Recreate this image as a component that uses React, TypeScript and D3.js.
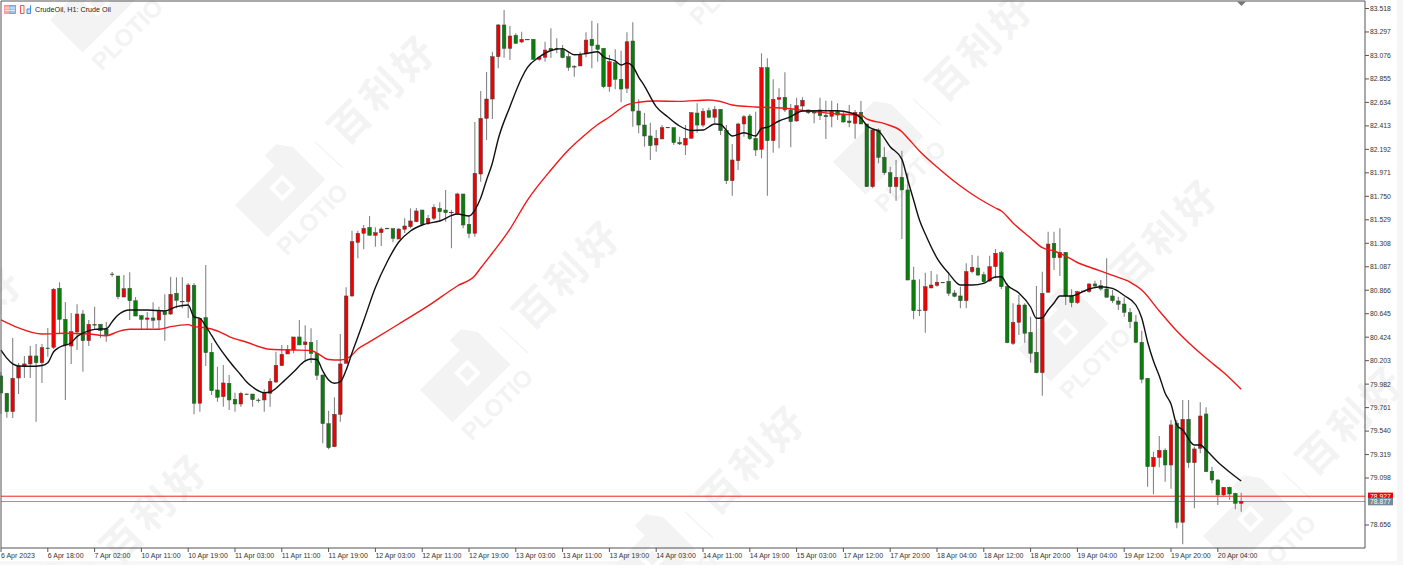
import React from 'react';
import * as d3 from 'd3';

const width = 1403;
const height = 565;

// price candles, one hour each
const opens = [
  80.059,79.896,79.723,80.040,80.153,80.172,80.247,80.184,80.322,80.329,
  80.884,80.592,80.341,80.473,80.642,80.391,80.543,80.545,80.498,81.018,
  81.000,80.802,80.884,80.767,80.626,80.592,80.605,80.586,80.664,80.642,
  80.837,80.762,80.758,80.912,79.802,80.608,80.282,79.927,79.864,79.990,
  79.839,79.795,79.889,79.889,79.832,79.833,79.896,80.002,80.156,80.266,
  80.303,80.426,80.353,80.376,80.272,80.068,79.610,79.393,79.698,80.178,
  80.812,81.317,81.402,81.458,81.383,81.408,81.449,81.445,81.348,81.440,
  81.464,81.511,81.621,81.496,81.543,81.637,81.621,81.600,81.590,81.772,
  81.487,81.402,81.960,82.484,82.666,83.064,83.363,83.143,83.266,83.203,
  83.228,83.228,83.040,83.059,83.143,83.143,83.134,83.064,82.972,82.977,
  83.096,83.228,83.174,83.143,82.782,83.008,82.852,82.767,83.212,82.553,
  82.421,82.318,82.233,82.290,82.400,82.396,82.258,82.233,82.296,82.534,
  82.421,82.556,82.494,82.569,82.368,81.897,82.085,82.431,82.506,82.296,
  82.193,82.961,82.274,82.663,82.682,82.563,82.459,82.600,82.563,82.541,
  82.563,82.513,82.503,82.550,82.522,82.459,82.437,82.541,82.431,81.841,
  82.374,82.117,81.972,81.841,81.929,81.810,80.962,80.679,80.673,80.887,
  80.912,80.941,80.950,80.840,80.812,80.767,81.041,81.075,81.012,80.953,
  81.088,81.219,80.899,80.366,80.564,80.727,80.470,80.282,80.090,80.847,
  81.308,81.172,81.223,80.812,80.749,80.859,80.852,80.925,80.909,80.878,
  80.812,80.765,80.736,80.655,80.567,80.376,80.037,79.205,79.293,79.359,
  79.221,79.614,78.682,79.651,79.243,79.378,79.701,79.162,79.080,78.939,
  79.011,78.954,78.860,
];
const highs = [
  80.096,79.899,80.416,80.181,80.247,80.341,80.360,80.360,80.510,80.887,
  80.941,80.755,80.652,80.734,80.680,80.586,80.711,80.548,80.567,81.038,
  81.000,81.009,81.035,80.802,80.633,80.661,80.752,80.711,80.828,80.993,
  80.988,80.988,80.934,80.934,80.605,81.104,80.369,80.146,80.162,80.068,
  79.902,79.911,79.892,79.889,79.849,79.933,80.037,80.287,80.351,80.351,
  80.426,80.586,80.536,80.508,80.398,80.068,79.732,79.858,80.454,80.894,
  81.426,81.426,81.480,81.565,81.458,81.458,81.453,81.449,81.449,81.543,
  81.637,81.640,81.621,81.574,81.675,81.694,81.810,81.621,81.784,81.772,
  81.574,82.450,82.741,82.920,83.111,83.372,83.504,83.353,83.285,83.300,
  83.231,83.231,83.071,83.205,83.332,83.237,83.174,83.096,82.986,83.111,
  83.294,83.403,83.379,83.146,83.080,83.134,83.121,83.294,83.388,82.663,
  82.534,82.443,82.374,82.421,82.403,82.400,82.311,82.421,82.544,82.626,
  82.579,82.584,82.600,82.572,82.421,82.243,82.443,82.515,82.525,82.547,
  83.096,83.049,82.852,82.767,82.917,82.619,82.678,82.682,82.565,82.563,
  82.678,82.650,82.650,82.626,82.547,82.610,82.563,82.647,82.431,82.390,
  82.390,82.211,82.029,82.092,82.179,81.967,81.088,80.969,81.031,81.047,
  81.016,80.944,81.038,80.868,80.899,81.120,81.198,81.191,81.041,81.191,
  81.254,81.235,80.931,80.743,80.821,80.743,80.617,80.906,81.041,81.417,
  81.417,81.449,81.226,80.875,80.862,80.862,80.931,80.956,80.962,81.167,
  80.868,80.805,80.800,80.699,80.633,80.485,80.040,79.346,79.494,79.378,
  79.645,79.645,79.833,79.833,79.393,79.811,79.764,79.205,79.086,79.014,
  79.017,78.960,78.960,
];
const lows = [
  79.701,79.666,79.663,79.889,80.040,80.040,79.629,79.993,80.240,80.313,
  80.454,79.833,80.172,80.303,80.099,80.341,80.492,80.416,80.382,80.993,
  80.781,80.802,80.586,80.623,80.498,80.501,80.508,80.492,80.391,80.633,
  80.696,80.696,80.605,79.698,79.723,80.153,79.880,79.817,79.770,79.739,
  79.723,79.770,79.884,79.770,79.807,79.723,79.770,79.993,80.153,80.266,
  80.272,80.351,80.193,80.181,80.021,79.425,79.369,79.388,79.629,80.178,
  80.805,81.167,81.251,81.383,81.276,81.282,81.443,81.317,81.348,81.405,
  81.449,81.505,81.480,81.480,81.527,81.518,81.511,81.261,81.574,81.449,
  81.355,81.370,81.888,82.280,82.478,82.955,83.055,83.033,83.184,83.190,
  83.222,83.033,83.027,83.017,83.052,83.096,83.049,82.933,82.876,82.977,
  83.059,82.955,83.017,82.767,82.735,82.757,82.635,82.723,82.405,82.343,
  82.217,82.092,82.170,82.290,82.396,82.233,82.233,82.139,82.296,82.349,
  82.400,82.484,82.437,82.327,81.866,81.756,81.998,82.311,82.280,82.130,
  82.108,81.756,82.161,82.202,82.544,82.211,82.452,82.547,82.525,82.437,
  82.468,82.290,82.400,82.468,82.443,82.400,82.292,82.431,81.838,81.825,
  82.061,81.951,81.778,81.709,81.348,80.962,80.592,80.623,80.466,80.887,
  80.899,80.936,80.812,80.800,80.696,80.696,81.025,81.000,80.937,80.946,
  80.978,80.878,80.366,80.351,80.445,80.372,80.184,80.084,79.873,80.847,
  81.056,81.000,80.727,80.705,80.736,80.854,80.843,80.884,80.862,80.800,
  80.746,80.680,80.617,80.508,80.366,79.990,79.017,78.945,79.199,79.064,
  78.998,78.625,78.475,79.196,78.813,79.331,79.158,79.049,78.844,78.929,
  78.892,78.804,78.781,
];
const closes = [
  79.899,79.723,80.037,80.153,80.172,80.247,80.184,80.325,80.319,80.875,
  80.592,80.351,80.476,80.642,80.391,80.545,80.540,80.485,80.447,81.016,
  80.805,80.880,80.767,80.623,80.592,80.605,80.583,80.664,80.636,80.828,
  80.771,80.760,80.915,79.802,80.602,80.278,79.920,79.858,79.993,79.833,
  79.795,79.896,79.887,79.836,79.830,79.902,80.009,80.159,80.263,80.310,
  80.426,80.351,80.379,80.272,80.065,79.610,79.384,79.698,80.172,80.812,
  81.323,81.402,81.449,81.383,81.408,81.442,81.447,81.355,81.442,81.471,
  81.518,81.612,81.487,81.543,81.647,81.605,81.596,81.598,81.772,81.480,
  81.402,81.967,82.484,82.666,83.064,83.363,83.143,83.259,83.190,83.228,
  83.226,83.040,83.059,83.127,83.127,83.141,83.055,82.965,82.970,83.080,
  83.221,83.168,83.134,82.782,83.017,82.852,82.760,83.205,82.553,82.421,
  82.318,82.227,82.296,82.396,82.398,82.255,82.243,82.296,82.537,82.421,
  82.550,82.494,82.569,82.368,81.897,82.092,82.431,82.499,82.292,82.186,
  82.961,82.274,82.663,82.678,82.563,82.452,82.603,82.654,82.537,82.534,
  82.509,82.499,82.547,82.515,82.450,82.443,82.541,82.431,81.841,82.374,
  82.117,81.972,81.841,81.929,81.810,80.962,80.673,80.677,80.899,80.915,
  80.941,80.939,80.837,80.809,80.767,81.041,81.082,81.009,80.946,81.088,
  81.214,80.899,80.372,80.564,80.727,80.461,80.272,80.090,80.837,81.301,
  81.172,81.223,80.812,80.749,80.852,80.857,80.925,80.906,80.878,80.800,
  80.767,80.734,80.658,80.570,80.376,80.028,79.205,79.293,79.359,79.221,
  79.598,78.682,79.651,79.243,79.372,79.682,79.158,79.080,78.939,79.011,
  78.948,78.860,78.877,
];

// fast moving average (black), candle index and value
const fastMaBars = [
  0,1,2,3,5,7,8,9,10,12,13,14,16,18,19,20,22,25,28,30,32,33,34,35,36,37,39,41,42,43,45,46,48,50,52,53,54,55,56,57,58,59,
  60,61,62,64,66,68,70,72,75,78,80,81,82,83,84,85,87,89,90,92,94,96,97,98,100,102,103,105,106,107,108,109,110,112,114,116,
  118,120,122,123,125,127,129,130,131,133,135,137,140,143,145,147,148,149,150,152,154,155,156,157,158,160,162,164,166,168,
  170,171,172,174,176,177,178,179,180,181,183,186,188,190,192,194,195,196,197,198,199,200,201,202,204,205,206,208,210,212,
];
const fastMaValues = [
  80.303,80.227,80.172,80.153,80.150,80.158,80.184,80.287,80.329,80.372,80.429,80.461,80.498,80.504,80.570,80.633,80.680,80.680,80.671,80.711,80.727,80.614,80.602,80.529,80.440,80.351,80.200,80.068,80.002,79.955,79.902,79.908,79.993,80.096,80.200,80.219,80.214,80.106,80.021,79.990,80.005,80.115,
  80.275,80.426,80.579,80.892,81.132,81.320,81.424,81.480,81.518,81.584,81.565,81.621,81.734,81.904,82.064,82.290,82.594,82.864,82.963,83.061,83.123,83.140,83.109,83.083,83.094,83.111,83.064,83.024,82.986,83.005,82.972,82.873,82.788,82.594,82.497,82.412,
  82.370,82.374,82.431,82.426,82.318,82.349,82.318,82.390,82.400,82.459,82.501,82.553,82.556,82.556,82.539,82.487,82.417,82.384,82.365,82.217,82.098,81.904,81.715,81.527,81.395,81.169,81.025,80.915,80.915,80.931,
  80.991,80.993,80.915,80.840,80.708,80.602,80.607,80.680,80.746,80.812,80.812,80.878,80.899,80.884,80.816,80.727,80.605,80.379,80.200,80.059,79.896,79.795,79.597,79.550,79.409,79.409,79.362,79.249,79.155,79.070,
];

// slow moving average (red)
const slowMaBars = [
  0,3,7,11,15,18,20,22,27,29,32,33,35,37,39,42,46,50,53,54,56,58,59,60,61,63,68,73,78,81,82,84,87,90,94,97,100,102,104,107,109,112,116,121,123,125,129,134,138,143,147,148,151,154,155,157,
  160,164,167,170,171,173,176,178,180,182,184,187,190,193,195,198,201,204,207,209,212,
];
const slowMaValues = [
  80.586,80.511,80.454,80.461,80.454,80.438,80.476,80.498,80.498,80.523,80.542,80.523,80.513,80.482,80.430,80.376,80.310,80.303,80.299,80.275,80.214,80.209,80.219,80.256,80.313,80.379,80.548,80.718,80.906,81.003,81.075,81.216,81.442,81.715,81.998,82.186,82.337,82.426,82.497,82.610,82.635,82.647,82.644,82.657,82.643,82.610,82.591,82.579,82.553,82.525,82.515,82.478,82.434,82.358,82.299,82.177,
  82.026,81.847,81.734,81.640,81.612,81.499,81.358,81.266,81.235,81.188,81.127,81.066,81.005,80.943,80.868,80.671,80.482,80.322,80.181,80.092,79.934,
];

const priceTicks = [
  '83.518','83.297','83.076','82.855','82.634','82.413','82.192','81.971','81.750','81.529','81.308',
  '81.087','80.866','80.645','80.424','80.203','79.982','79.761','79.540','79.319','79.098','78.656',
];
const timeTicks = [
  '6 Apr 2023','6 Apr 18:00','7 Apr 02:00','10 Apr 11:00','10 Apr 19:00','11 Apr 03:00','11 Apr 11:00',
  '11 Apr 19:00','12 Apr 03:00','12 Apr 11:00','12 Apr 19:00','13 Apr 03:00','13 Apr 11:00','13 Apr 19:00',
  '14 Apr 03:00','14 Apr 11:00','14 Apr 19:00','15 Apr 03:00','17 Apr 12:00','17 Apr 20:00','18 Apr 04:00',
  '18 Apr 12:00','18 Apr 20:00','19 Apr 04:00','19 Apr 12:00','19 Apr 20:00','20 Apr 04:00',
];
const barsPerTimeTick = 8;
const askPrice = 78.927;
const bidPrice = 78.877;

// watermark tiles: left corner of each logo
const logoAnchors = [
  [50, 20], [235, 205], [420, 390], [605, 575],
  [648, -25], [833, 162], [1018, 349], [1203, 536],
  [-178, 437], [7, 624],
];

const chartRight = 1365;
const chartBottom = 548;
const labelFont = '"Liberation Sans", Arial, sans-serif';
const upColor = '#f00000';
const downColor = '#0a7d0a';
const markColor = '#f3f3f3';

const x = d3.scaleLinear().domain([0, 212]).range([1, 1241.2]);
const y = d3.scaleLinear().domain([78.656, 83.518]).range([525, 8.5]);

const fastLine = d3.line<number>()
  .x((_, i) => x(fastMaBars[i]))
  .y(d => y(d))
  .curve(d3.curveMonotoneX);
const slowLine = d3.line<number>()
  .x((_, i) => x(slowMaBars[i]))
  .y(d => y(d))
  .curve(d3.curveMonotoneX);

const Watermark = ({ ax, ay }: { ax: number; ay: number }) => (
  <g>
    <g transform={`translate(${ax},${ay}) rotate(-45)`}>
      <path d="M0,0 H56 V-14 L72,-14 L82,0 V46 H0 Z" fill={markColor} />
      <rect x={36} y={12} width={19} height={19} fill="#fff" />
      <rect x={40} y={16} width={11} height={11} fill={markColor} />
      <text x={0} y={73} fontFamily={labelFont} fontWeight="bold" fontSize={24} fill={markColor}>PLOTIO</text>
    </g>
    <line x1={ax + 80} y1={ay - 63} x2={ax + 108} y2={ay - 37} stroke={markColor} strokeWidth={1.2} />
    <text
      transform={`translate(${ax + 148},${ay - 116}) rotate(-45)`}
      textAnchor="middle"
      dy="0.36em"
      fontFamily='"Noto Sans CJK SC"'
      fontWeight="bold"
      fontSize={40}
      letterSpacing={5}
      fill={markColor}
    >
      百利好
    </text>
  </g>
);

const App: React.FC = () => {
  return (
    <svg width={width} height={height} style={{ position: 'absolute', left: 0, top: 0, background: '#fff' }}>
      <rect x={1397} y={0} width={6} height={height} fill="#f6f6f6" />
      <rect x={0} y={561} width={width} height={4} fill="#f6f6f6" />

      {logoAnchors.map(([ax, ay], i) => <Watermark key={i} ax={ax} ay={ay} />)}

      {/* current price lines */}
      <line x1={1} x2={chartRight} y1={y(askPrice)} y2={y(askPrice)} stroke="#f02020" strokeWidth={1} />
      <line x1={1} x2={chartRight} y1={y(bidPrice)} y2={y(bidPrice)} stroke="#8e99a6" strokeWidth={1} />

      {/* candles */}
      <g>
        {opens.map((o, i) => {
          const c = closes[i];
          const top = y(Math.max(o, c));
          const bottom = y(Math.min(o, c));
          return (
            <g key={i}>
              <line x1={x(i)} x2={x(i)} y1={y(highs[i])} y2={y(lows[i])} stroke="#858585" strokeWidth={1.1} />
              <rect
                x={x(i) - 1.8}
                y={top}
                width={3.6}
                height={Math.max(bottom - top, 0.6)}
                fill={c > o ? upColor : downColor}
                stroke="#444"
                strokeWidth={0.5}
              />
            </g>
          );
        })}
      </g>

      <path d={slowLine(slowMaValues) ?? ''} fill="none" stroke="#f01818" strokeWidth={1.4} />
      <path d={fastLine(fastMaValues) ?? ''} fill="none" stroke="#111" strokeWidth={1.4} />

      {/* frame */}
      <path d={`M1,${chartBottom} V1 H${chartRight} V${chartBottom} Z`} fill="none" stroke="#555" strokeWidth={1} />
      <path d="M1237,1.5 H1246 L1241.5,6 Z" fill="#777" />

      {/* legend icons and title */}
      <g>
        <rect x={4.5} y={5.5} width={11} height={8} fill="#f8a9a0" stroke="#e77" strokeWidth={0.6} />
        <rect x={10} y={5.5} width={5.5} height={8} fill="#9cc4ea" stroke="#59e" strokeWidth={0.6} />
        <path d="M5,8 H15 M5,10.5 H15" stroke="#fff" strokeWidth={0.7} />
        <path d="M20.5,13.5 V5.5 H24 V13.5 Z" fill="#fff" stroke="#ef5a5a" strokeWidth={1} />
        <path d="M27,13.5 V9 H30.5 V5.5 V13.5 Z" fill="#cfe3f7" stroke="#3b8fe0" strokeWidth={1} />
        <text x={35} y={12} fontFamily={labelFont} fontSize={7.2} fill="#222">CrudeOil, H1:  Crude Oil</text>
      </g>

      {/* price axis */}
      <g>
        {priceTicks.map(t => (
          <g key={t}>
            <line x1={chartRight} x2={chartRight + 4} y1={y(+t)} y2={y(+t)} stroke="#555" />
            <text x={chartRight + 5} y={y(+t)} dy="0.35em" fontFamily={labelFont} fontSize={6.8} fill="#333">{t}</text>
          </g>
        ))}
        <rect x={1368} y={y(askPrice) - 3.6} width={25} height={7} fill="#f00000" />
        <text x={1370} y={y(askPrice)} dy="0.35em" fontFamily={labelFont} fontSize={6.8} fill="#fff">78.927</text>
        <rect x={1368} y={y(bidPrice) - 3.6} width={25} height={7.4} fill="#77889a" />
        <text x={1370} y={y(bidPrice)} dy="0.35em" fontFamily={labelFont} fontSize={6.8} fill="#fff">78.877</text>
      </g>

      {/* time axis */}
      <g>
        {timeTicks.map((t, k) => {
          const tx = x(k * barsPerTimeTick);
          return (
            <g key={t}>
              <line x1={tx} x2={tx} y1={chartBottom} y2={chartBottom + 4} stroke="#555" />
              <text x={tx} y={557.5} fontFamily={labelFont} fontSize={7} fill="#333">{t}</text>
            </g>
          );
        })}
      </g>
    </svg>
  );
};

export default App;
